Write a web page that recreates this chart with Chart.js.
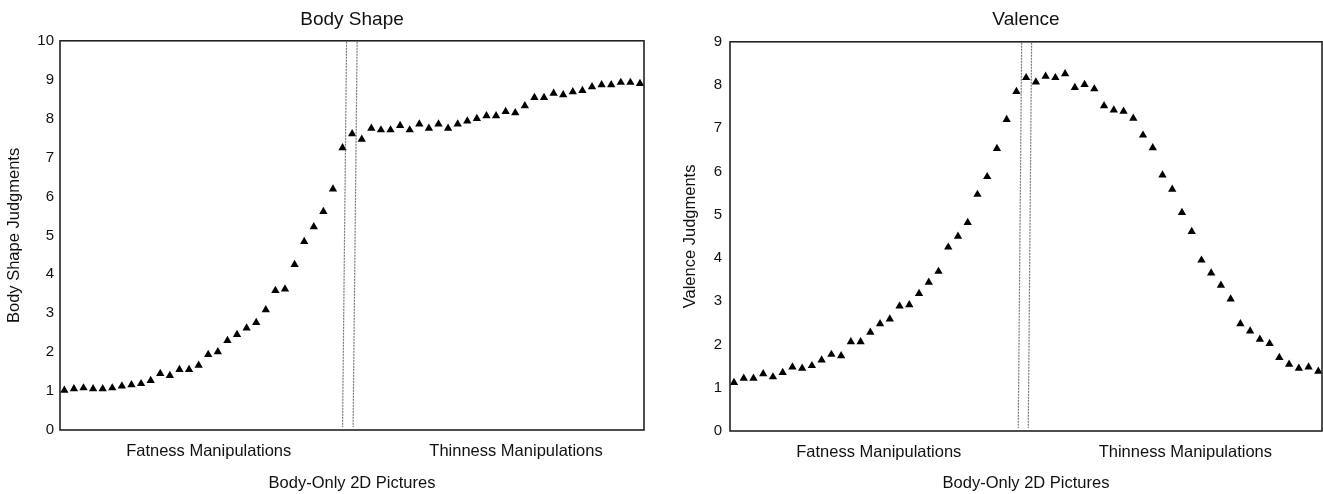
<!DOCTYPE html>
<html>
<head>
<meta charset="utf-8">
<script src="https://cdn.jsdelivr.net/npm/chart.js@4.4.1/dist/chart.umd.min.js"></script>
<style>
  html, body { margin: 0; padding: 0; background: #fff; }
  #wrapL { position: absolute; left: 0; top: 0; width: 660px; height: 494px; }
  #wrapR { position: absolute; left: 660px; top: 0; width: 663px; height: 494px; }
</style>
</head>
<body>
<div id="wrapL"><canvas id="left" width="660" height="494"></canvas></div>
<div id="wrapR"><canvas id="right" width="663" height="494"></canvas></div>
<script>
// ---- Data ----
const bodyShapeValues = [1.02,1.06,1.08,1.06,1.06,1.08,1.13,1.16,1.19,1.27,
  1.45,1.40,1.55,1.55,1.66,1.94,2.01,2.30,2.45,2.62,
  2.76,3.09,3.58,3.62,4.25,4.84,5.22,5.61,6.19,7.25,
  7.61,7.47,7.75,7.71,7.71,7.82,7.71,7.86,7.75,7.86,
  7.75,7.86,7.94,8.00,8.07,8.07,8.18,8.15,8.33,8.54,
  8.54,8.65,8.61,8.69,8.72,8.82,8.87,8.87,8.93,8.93,8.90];
const valenceValues = [1.12,1.22,1.22,1.32,1.25,1.35,1.48,1.45,1.51,1.64,
  1.77,1.74,2.06,2.06,2.28,2.48,2.59,2.89,2.92,3.18,
  3.44,3.69,4.25,4.50,4.82,5.47,5.88,6.53,7.20,7.85,
  8.17,8.07,8.20,8.17,8.26,7.94,8.01,7.91,7.52,7.42,
  7.39,7.23,6.84,6.55,5.92,5.59,5.05,4.61,3.95,3.65,
  3.37,3.05,2.48,2.31,2.12,2.02,1.70,1.54,1.45,1.48,1.38];
const xCategoryLabels = ['Fatness Manipulations', 'Thinness Manipulations'];
const xCategoryPosLeft = [15.05, 47.08];
const xCategoryPosRight = [14.87, 46.35];
const dividerLeftTop = [29.42, 30.52];
const dividerLeftBottom = [29.0, 30.1];
const dividerRightTop = [29.54, 30.56];
const dividerRightBottom = [29.19, 30.22];

const FONT = '"Liberation Sans", Arial, Helvetica, sans-serif';
const TEXT = '#111';

function toPoints(vals) { return vals.map((v, i) => ({ x: i, y: v })); }

const framePlugin = {
  id: 'frame',
  afterDatasetsDraw(chart, args, opts) {
    const { ctx, chartArea: a, scales } = chart;
    ctx.save();
    ctx.strokeStyle = '#7a7a7a';
    ctx.lineWidth = 1.2;
    ctx.setLineDash([2, 1]);
    const top = opts.top || [], bot = opts.bottom || [];
    for (let i = 0; i < top.length; i++) {
      ctx.beginPath();
      ctx.moveTo(scales.x.getPixelForValue(top[i]), a.top + 1);
      ctx.lineTo(scales.x.getPixelForValue(bot[i]), a.bottom - 3);
      ctx.stroke();
    }
    ctx.setLineDash([]);
    ctx.strokeStyle = '#222';
    ctx.lineWidth = 1.6;
    ctx.strokeRect(a.left, a.top, a.right - a.left, a.bottom - a.top);
    ctx.restore();
  }
};

function makeChart(id, opt) {
  return new Chart(document.getElementById(id), {
    type: 'scatter',
    data: {
      datasets: [{
        data: toPoints(opt.values),
        pointStyle: 'triangle',
        pointRadius: 4.8,
        pointHoverRadius: 4.8,
        backgroundColor: '#000',
        borderColor: '#000',
        borderWidth: 0
      }]
    },
    options: {
      responsive: false,
      animation: false,
      events: [],
      layout: { autoPadding: false, padding: { left: 0, right: opt.padRight, top: 0, bottom: 0 } },
      plugins: {
        legend: { display: false },
        tooltip: { enabled: false },
        title: {
          display: true,
          text: opt.title,
          fullSize: false,
          color: TEXT,
          font: { family: FONT, size: 19, weight: 'normal' },
          padding: { top: 8, bottom: opt.titleBottom }
        },
        frame: { top: opt.divTop, bottom: opt.divBottom }
      },
      scales: {
        x: {
          type: 'linear',
          min: opt.xMin,
          max: opt.xMax,
          grid: { display: false, drawTicks: false },
          border: { display: false },
          afterBuildTicks: (s) => { s.ticks = opt.catPos.map(v => ({ value: v })); },
          afterFit: (s) => { s.height = opt.xHeight; },
          ticks: {
            autoSkip: false,
            maxRotation: 0,
            padding: 12,
            color: TEXT,
            font: { family: FONT, size: 16.5 },
            callback: (v, i) => xCategoryLabels[i]
          },
          title: {
            display: true,
            text: 'Body-Only 2D Pictures',
            color: TEXT,
            font: { family: FONT, size: 16.5 },
            padding: { top: 0, bottom: 1 }
          }
        },
        y: {
          min: 0,
          max: opt.yMax,
          grid: { display: false, drawTicks: false },
          border: { display: false },
          afterFit: (s) => { s.width = opt.yWidth; },
          ticks: {
            stepSize: 1,
            padding: opt.yTickPad,
            color: TEXT,
            font: { family: FONT, size: 15 }
          },
          title: {
            display: true,
            text: opt.yTitle,
            color: TEXT,
            font: { family: FONT, size: 16.5 },
            padding: { top: opt.yTitlePad, bottom: 0 }
          }
        }
      }
    },
    plugins: [framePlugin]
  });
}

makeChart('left', {
  values: bodyShapeValues,
  title: 'Body Shape',
  yTitle: 'Body Shape Judgments',
  yMax: 10,
  xMin: -0.45, xMax: 60.42,
  catPos: xCategoryPosLeft,
  divTop: dividerLeftTop, divBottom: dividerLeftBottom,
  padRight: 16, titleBottom: 10, xHeight: 64,
  yWidth: 60, yTickPad: 6, yTitlePad: 5
});

makeChart('right', {
  values: valenceValues,
  title: 'Valence',
  yTitle: 'Valence Judgments',
  yMax: 9,
  xMin: -0.41, xMax: 60.38,
  catPos: xCategoryPosRight,
  divTop: dividerRightTop, divBottom: dividerRightBottom,
  padRight: 1, titleBottom: 11, xHeight: 63,
  yWidth: 70, yTickPad: 8, yTitlePad: 21
});
</script>
</body>
</html>
